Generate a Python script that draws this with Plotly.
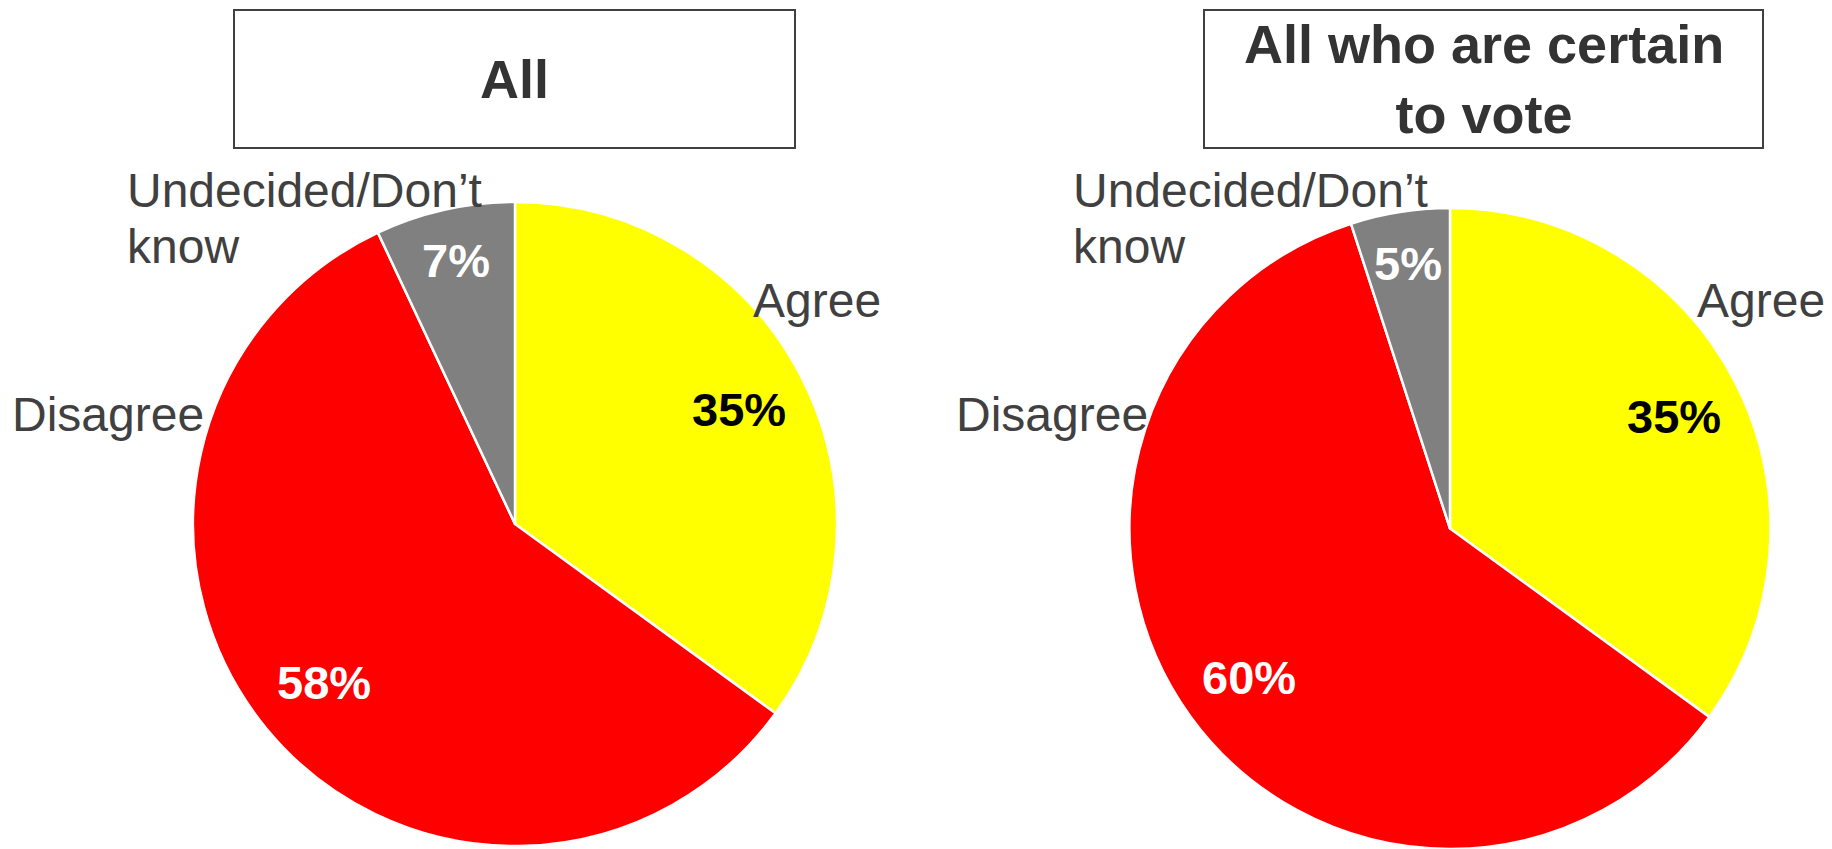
import math
import plotly.graph_objects as go

W, H = 1832, 849

categories = ["Agree", "Disagree", "Undecided/Don’t know"]
values_all = [35, 58, 7]
values_certain = [35, 60, 5]
panel_titles = ["All", "All who are certain<br>to vote"]

colors = ["#FFFF00", "#FF0000", "#808080"]
pct_colors = ["#000000", "#FFFFFF", "#FFFFFF"]
pct_radius = [0.78, 0.77, 0.84]
FONT = "Liberation Sans, Arial, sans-serif"

# pie placement (pixels): centre x, centre y (from top), radius
pies = [
    dict(values=values_all, cx=515, cy=524, r=322),
    dict(values=values_certain, cx=1450, cy=531, r=323),
]

fig = go.Figure()
annotations = []
shapes = []

for i, p in enumerate(pies):
    cx, cy, r = p["cx"], p["cy"], p["r"]
    dom_x = [(cx - r) / W, (cx + r) / W]
    ybot = H - cy - r
    dom_y = [max(0.0, ybot / H), (H - cy + r) / H]
    fig.add_trace(go.Pie(
        labels=categories,
        values=p["values"],
        sort=False,
        direction="clockwise",
        rotation=0,
        marker=dict(colors=colors, line=dict(color="#FFFFFF", width=2.5)),
        textinfo="none",
        hoverinfo="label+percent",
        showlegend=False,
        domain=dict(x=dom_x, y=dom_y),
    ))
    # percentage labels along each slice's mid-angle
    total = sum(p["values"])
    cum = 0
    for j, v in enumerate(p["values"]):
        mid = (cum + v / 2) / total * 2 * math.pi
        cum += v
        rr = r * pct_radius[j]
        px = cx + rr * math.sin(mid)
        py = cy - rr * math.cos(mid)
        annotations.append(dict(
            x=px / W, y=1 - py / H, xref="paper", yref="paper",
            text=f"<b>{round(v / total * 100)}%</b>", showarrow=False,
            font=dict(family=FONT, size=47, color=pct_colors[j]),
            xanchor="center", yanchor="middle",
        ))

# title boxes
boxes = [(234, 10, 795, 148), (1204, 10, 1763, 148)]
for (x0, y0, x1, y1), t in zip(boxes, panel_titles):
    shapes.append(dict(type="rect", xref="paper", yref="paper",
                       x0=x0 / W, x1=x1 / W, y0=1 - y0 / H, y1=1 - y1 / H,
                       line=dict(color="#404040", width=2), fillcolor="rgba(0,0,0,0)"))
    annotations.append(dict(
        x=(x0 + x1) / 2 / W, y=1 - (y0 + y1) / 2 / H, xref="paper", yref="paper",
        text=f"<b>{t}</b>", showarrow=False,
        font=dict(family=FONT, size=54, color="#333333"),
        xanchor="center", yanchor="middle",
    ))

# category labels (left x, vertical middle) in pixels
cat_labels = [
    ("Undecided/Don’t", 125, 190), ("know", 125, 246),
    ("Agree", 751, 300), ("Disagree", 10, 414),
    ("Undecided/Don’t", 1071, 190), ("know", 1071, 246),
    ("Agree", 1695, 300), ("Disagree", 954, 414),
]
for txt, x, y in cat_labels:
    annotations.append(dict(
        x=x / W, y=1 - y / H, xref="paper", yref="paper",
        text=txt, showarrow=False,
        font=dict(family=FONT, size=48, color="#404040"),
        xanchor="left", yanchor="middle",
    ))

fig.update_layout(
    width=W, height=H,
    margin=dict(l=0, r=0, t=0, b=0),
    paper_bgcolor="#FFFFFF",
    plot_bgcolor="#FFFFFF",
    annotations=annotations,
    shapes=shapes,
)

fig.write_html(
    "out.html",
    config={"displayModeBar": False},
    post_script="document.body.style.margin='0';document.body.style.overflow='hidden';",
)
